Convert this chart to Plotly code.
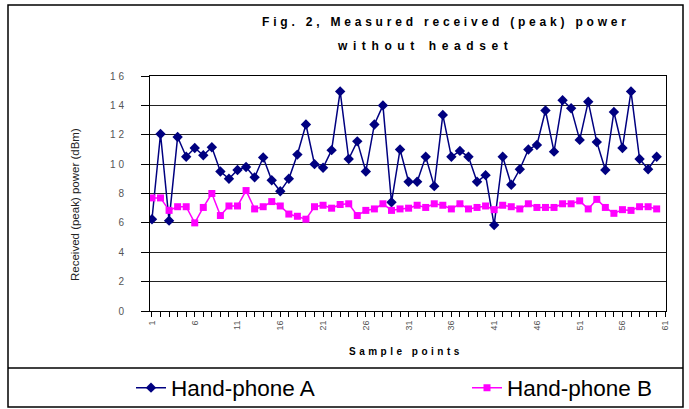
import plotly.graph_objects as go

# ---------------- data ----------------
categories = list(range(1, 62))          # sample points on the category axis
samples = list(range(1, 61))             # points that carry data

phone_a = [6.25, 12.05, 6.15, 11.85, 10.5, 11.1, 10.6, 11.15, 9.5, 9.0,
           9.6, 9.8, 9.1, 10.45, 8.9, 8.15, 9.0, 10.65, 12.7, 10.0,
           9.75, 10.95, 14.95, 10.35, 11.55, 9.5, 12.7, 14.0, 7.4, 11.0,
           8.8, 8.8, 10.5, 8.5, 13.35, 10.5, 10.9, 10.5, 8.8, 9.25,
           5.85, 10.5, 8.6, 9.65, 11.0, 11.3, 13.65, 10.85, 14.35, 13.8,
           11.65, 14.25, 11.5, 9.6, 13.55, 11.1, 14.95, 10.35, 9.65, 10.5]

phone_b = [7.7, 7.7, 6.85, 7.1, 7.1, 6.0, 7.05, 8.0, 6.5, 7.15,
           7.15, 8.2, 6.95, 7.1, 7.45, 7.15, 6.6, 6.45, 6.25, 7.1,
           7.2, 7.0, 7.25, 7.3, 6.5, 6.85, 6.95, 7.3, 6.85, 6.95,
           7.0, 7.2, 7.05, 7.3, 7.2, 6.95, 7.3, 6.95, 7.05, 7.15,
           6.9, 7.2, 7.1, 6.95, 7.3, 7.05, 7.05, 7.05, 7.3, 7.3,
           7.5, 6.95, 7.6, 7.05, 6.65, 6.9, 6.85, 7.1, 7.1, 6.95]

x_tick_labels = ["1", "6", "11", "16", "21", "26", "31", "36", "41", "46", "51", "56", "61"]
y_tick_values = [0, 2, 4, 6, 8, 10, 12, 14, 16]

series_names = ["Hand-phone A", "Hand-phone B"]
title_line1 = "Fig. 2, Measured received (peak) power"
title_line2 = "without headset"
x_title = "Sample points"
y_title = "Received (peak) power (dBm)"

# ---------------- figure ----------------
FONT = "Liberation Sans, Arial, sans-serif"

def spaced(text, px):
    return f'<span style="letter-spacing:{px}px">{text}</span>'

x_tickvals = categories
x_ticktext = [str(c) if str(c) in x_tick_labels else "" for c in categories]

fig = go.Figure()
fig.add_trace(go.Scatter(
    x=samples, y=phone_a, name=series_names[0], mode="lines+markers",
    line=dict(color="#000080", width=1.5),
    marker=dict(symbol="diamond", size=8, color="#000080"),
    legend="legend",
))
fig.add_trace(go.Scatter(
    x=samples, y=phone_b, name=series_names[1], mode="lines+markers",
    line=dict(color="#FF00FF", width=1.5),
    marker=dict(symbol="square", size=7, color="#FF00FF"),
    legend="legend2",
))

W, H = 689, 409
L, R, T, B = 150, 23, 76, 98
pw, ph = W - L - R, H - T - B

def px_x(px):
    return (px - L) / pw

def px_y(py):
    return (H - B - py) / ph

legend_style = dict(
    orientation="h", xref="container", yref="container",
    xanchor="left", y=1 - 388 / H, yanchor="middle",
    font=dict(family=FONT, size=22.5, color="black"),
    bgcolor="rgba(0,0,0,0)",
)

fig.update_layout(
    width=W, height=H,
    margin=dict(l=L, r=R, t=T, b=B, autoexpand=False),
    paper_bgcolor="white", plot_bgcolor="white",
    font=dict(family=FONT, color="black"),
    showlegend=True,
    legend=dict(legend_style, x=131 / W),
    legend2=dict(legend_style, x=467 / W),
)

fig.update_xaxes(
    automargin=False,
    range=[0.77, 61.09],
    tickmode="array", tickvals=x_tickvals, ticktext=x_ticktext,
    tickangle=-90, tickfont=dict(family=FONT, size=9, color="#555"),
    ticks="outside", ticklen=5, tickcolor="black", tickwidth=1,
    showline=True, linecolor="black", linewidth=1, mirror=True,
    showgrid=False, zeroline=False,
)
fig.update_yaxes(
    automargin=False,
    range=[0, 16],
    tickmode="array", tickvals=y_tick_values,
    ticktext=[spaced(str(v), 3) for v in y_tick_values],
    tickfont=dict(family=FONT, size=10, color="#555"),
    ticks="outside", ticklen=8, tickcolor="black", tickwidth=1,
    ticklabelstandoff=12,
    showline=True, linecolor="black", linewidth=1, mirror=True,
    showgrid=True, gridcolor="#222", gridwidth=1, zeroline=False,
)

annotations = [
    dict(text="<b>" + spaced(title_line1, 3.8) + "</b>", x=px_x(446), y=px_y(22),
         font=dict(family=FONT, size=12, color="black")),
    dict(text="<b>" + spaced(title_line2, 5.6) + "</b>", x=px_x(425), y=px_y(46),
         font=dict(family=FONT, size=12, color="black")),
    dict(text="<b>" + spaced(x_title, 3.5) + "</b>", x=px_x(406), y=px_y(351),
         font=dict(family=FONT, size=10, color="black")),
    dict(text=y_title, x=px_x(75), y=px_y(205), textangle=-90,
         font=dict(family=FONT, size=11.5, color="#222")),
]
for a in annotations:
    a.update(xref="paper", yref="paper", showarrow=False, xanchor="center", yanchor="middle")
fig.update_layout(annotations=annotations)

shapes = [
    dict(type="rect", xref="paper", yref="paper",
         x0=px_x(8), x1=px_x(683), y0=px_y(407), y1=px_y(5),
         line=dict(color="black", width=1.5), fillcolor="rgba(0,0,0,0)"),
    dict(type="line", xref="paper", yref="paper",
         x0=px_x(8), x1=px_x(683), y0=px_y(368), y1=px_y(368),
         line=dict(color="black", width=1.5)),
]
fig.update_layout(shapes=shapes)

fig.write_html("out.html", config={"displayModeBar": False},
               post_script="document.body.style.margin='0';")
